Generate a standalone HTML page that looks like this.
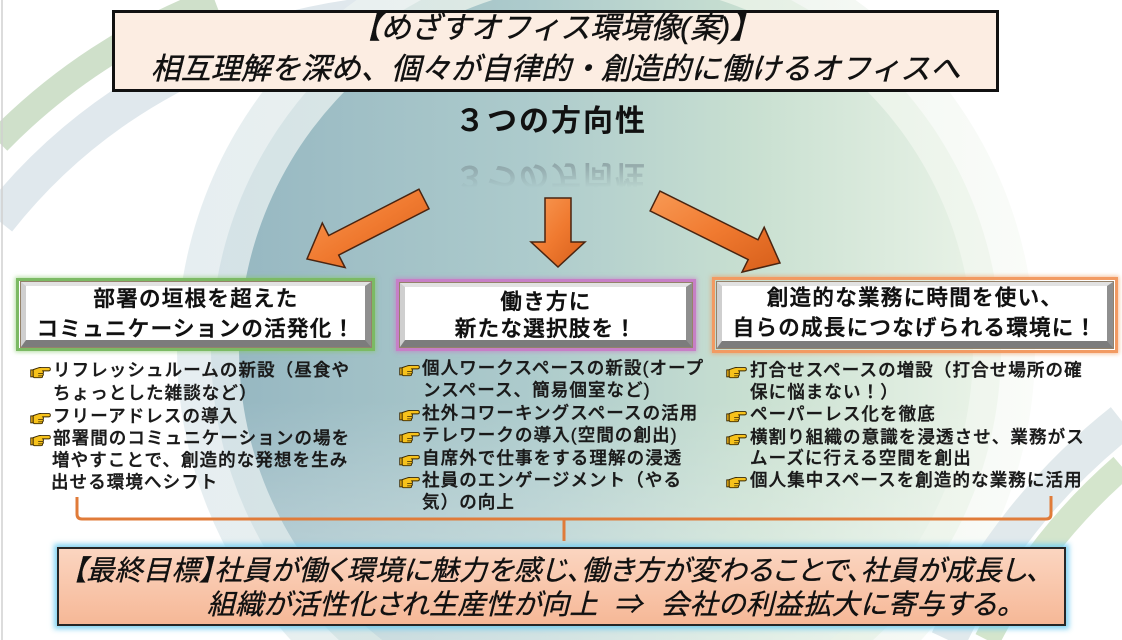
<!DOCTYPE html>
<html><head><meta charset="utf-8">
<style>
*{margin:0;padding:0;box-sizing:border-box}
html,body{width:1122px;height:640px;overflow:hidden;background:#fff}
body{position:relative;font-family:"Liberation Sans","Noto Sans CJK JP",sans-serif;color:#111}
.a{position:absolute;white-space:nowrap}
.t{font-size:30px;font-style:italic;line-height:36px;text-align:center;left:112px;width:887px;color:#111;-webkit-text-stroke:0.45px #111}
.h{font-size:21.5px;line-height:30px;text-align:center;letter-spacing:1.3px;font-weight:500;color:#111;-webkit-text-stroke:0.55px #111}
.b{font-size:17.5px;line-height:22px;letter-spacing:1.1px;color:#1a1a1a;font-weight:500;-webkit-text-stroke:0.4px #1a1a1a}
.ob{position:absolute;border:3px solid}
.bv{position:absolute;background:#fff;border-style:solid;border-width:4px 6px 7px 5px;border-color:#e2e2e2 #8f8f8f #7c7c7c #cfcfcf;box-shadow:0 0 0 1px #94826a}
.f{font-size:28px;font-style:italic;line-height:34px;font-feature-settings:"palt";color:#111;-webkit-text-stroke:0.35px #111}
</style></head><body>

<svg class="a" style="left:0;top:0" width="1122" height="640">
<defs>
<linearGradient id="ring" x1="170" y1="0" x2="1040" y2="0" gradientUnits="userSpaceOnUse">
<stop offset="0" stop-color="#e6eef1"/><stop offset="0.6" stop-color="#eef4ee"/><stop offset="1" stop-color="#fafcf9"/></linearGradient>
<linearGradient id="ring2" x1="200" y1="0" x2="1010" y2="0" gradientUnits="userSpaceOnUse">
<stop offset="0" stop-color="#d4e2e7"/><stop offset="0.6" stop-color="#e2eee2"/><stop offset="1" stop-color="#f1f7ef"/></linearGradient>
<linearGradient id="disk" x1="240" y1="0" x2="975" y2="0" gradientUnits="userSpaceOnUse">
<stop offset="0" stop-color="#97b8c2"/><stop offset="0.4" stop-color="#adcbcc"/>
<stop offset="0.7" stop-color="#c9e0d1"/><stop offset="1" stop-color="#e8f2e6"/></linearGradient>
<linearGradient id="fadeb" x1="0" y1="400" x2="0" y2="720" gradientUnits="userSpaceOnUse">
<stop offset="0" stop-color="#fff" stop-opacity="0"/><stop offset="1" stop-color="#fff" stop-opacity="0.6"/></linearGradient>
</defs>
<rect width="1122" height="640" fill="#fff"/>
<path d="M-2,220.3 A548,548 0 0 1 382.2,14.1" fill="none" stroke="#e0e8ed" stroke-width="36"/>
<path d="M-2,141.6 A600,600 0 0 1 214.6,0" fill="none" stroke="#cfe0ca" stroke-width="26"/>
<path d="M290.8,640 A429,429 0 1 1 921.2,640 Z" fill="url(#ring)"/>
<path d="M338.9,640 A395,395 0 1 1 873.1,640 Z" fill="url(#ring2)"/>
<path d="M382.4,640 A367,367 0 1 1 829.6,640 Z" fill="url(#disk)"/>
<path d="M382.4,640 A367,367 0 1 1 829.6,640 Z" fill="url(#fadeb)"/>
<path d="M1122,421.2 A610,610 0 0 0 948.2,640" fill="none" stroke="#e1e9ec" stroke-width="36"/>
<path d="M1122,466.7 A575,575 0 0 0 987.1,640" fill="none" stroke="#d4e5cc" stroke-width="26"/>
<line x1="2" y1="0" x2="2" y2="640" stroke="#d0d0d0" stroke-width="1.5"/>
</svg>

<svg class="a" style="left:0;top:0" width="1122" height="640">
<defs>
<linearGradient id="og" x1="0" y1="0" x2="1" y2="1">
<stop offset="0" stop-color="#f89a55"/><stop offset="0.5" stop-color="#f07a30"/><stop offset="1" stop-color="#d65e1a"/></linearGradient>
<symbol id="hand" viewBox="0 0 22 16">
<rect x="0.6" y="6.3" width="2.6" height="7.4" fill="#f2b618" stroke="#3a2800" stroke-width="1"/>
<path d="M3.2,6 L8,4.4 Q10,3.5 12,3.8 L20,3.8 Q21.5,3.8 21.5,5.6 Q21.5,7.3 20,7.3 L13.5,7.3 Q14.6,8.6 13.8,10 Q14.6,11.5 13.2,12.8 Q13.5,14.6 11.5,14.6 L5,14.6 Q3.2,14.6 3.2,12.6 Z" fill="#f7c21b" stroke="#3a2800" stroke-width="1"/>
<path d="M8.5,10 L13.6,10 M8.5,12.6 L13,12.6" stroke="#3a2800" stroke-width="0.8" fill="none"/>
</symbol>
</defs>
<polygon points="419,189.2 328.7,235.5 322.3,223 307,259 345.1,267.6 338.7,255.1 429,208.8" fill="url(#og)" stroke="#4a2410" stroke-width="1.5"/>
<polygon points="545,198 571,198 571,242 585,242 558,267 531,242 545,242" fill="url(#og)" stroke="#4a2410" stroke-width="1.5"/>
<polygon points="659.9,191.1 758,239.8 764.2,227.3 780,263 742,272.1 748.2,259.6 650.1,210.9" fill="url(#og)" stroke="#4a2410" stroke-width="1.5"/>
<path d="M77,497 L77,514 Q77,519 82,519 L1046,519 Q1051,519 1051,514 L1051,496" fill="none" stroke="#e07b39" stroke-width="3"/>
<path d="M564,519 L564,541" stroke="#e07b39" stroke-width="3"/>
<use href="#hand" x="30" y="364" width="21" height="15"/>
<use href="#hand" x="30" y="410" width="21" height="15"/>
<use href="#hand" x="30" y="432" width="21" height="15"/>
<use href="#hand" x="399" y="362" width="21" height="15"/>
<use href="#hand" x="399" y="407" width="21" height="15"/>
<use href="#hand" x="399" y="429" width="21" height="15"/>
<use href="#hand" x="399" y="452" width="21" height="15"/>
<use href="#hand" x="399" y="474" width="21" height="15"/>
<use href="#hand" x="726" y="364" width="21" height="15"/>
<use href="#hand" x="726" y="408" width="21" height="15"/>
<use href="#hand" x="726" y="431" width="21" height="15"/>
<use href="#hand" x="726" y="474" width="21" height="15"/>
</svg>

<!-- top title box -->
<div class="a" style="left:112px;top:10px;width:887px;height:82px;border:3px solid #111;background:#fcede2"></div>
<div class="a t" style="top:11px">【めざすオフィス環境像(案)】</div>
<div class="a t" style="top:52px">相互理解を深め、個々が自律的・創造的に働けるオフィスへ</div>

<!-- 3つの方向性 -->
<div class="a" style="left:401px;top:104px;width:300px;text-align:center;font-size:30px;font-weight:bold;letter-spacing:2px;line-height:36px;color:#111">３つの方向性</div>
<div class="a" style="left:401px;top:157px;width:300px;text-align:center;font-size:30px;font-weight:bold;letter-spacing:2px;line-height:36px;color:#7f9296;transform:scaleY(-1);-webkit-mask-image:linear-gradient(to top,rgba(0,0,0,0.85),rgba(0,0,0,0) 85%);mask-image:linear-gradient(to top,rgba(0,0,0,0.85),rgba(0,0,0,0) 85%)">３つの方向性</div>

<!-- box 1 -->
<div class="ob" style="left:16px;top:278px;width:359px;height:73px;border-color:#7cba64;box-shadow:0 0 4px 1px rgba(130,200,100,0.6)"></div>
<div class="bv" style="left:21px;top:282px;width:350px;height:65px"></div>
<div class="a h" style="left:21px;top:283.5px;width:350px">部署の垣根を超えた</div>
<div class="a h" style="left:21px;top:314px;width:350px">コミュニケーションの活発化！</div>

<!-- box 2 -->
<div class="ob" style="left:396px;top:279px;width:300px;height:72px;border-color:#c77fc6;box-shadow:0 0 4px 1px rgba(200,120,200,0.6)"></div>
<div class="bv" style="left:400px;top:283px;width:292px;height:64px"></div>
<div class="a h" style="left:400px;top:287px;width:292px">働き方に</div>
<div class="a h" style="left:400px;top:314px;width:292px">新たな選択肢を！</div>

<!-- box 3 -->
<div class="ob" style="left:712px;top:277px;width:406px;height:76px;border-color:#f29a62;box-shadow:0 0 4px 1px rgba(240,150,90,0.6)"></div>
<div class="bv" style="left:717px;top:282px;width:396px;height:66px"></div>
<div class="a h" style="left:717px;top:282.5px;width:396px">創造的な業務に時間を使い、</div>
<div class="a h" style="left:717px;top:313px;width:396px">自らの成長につなげられる環境に！</div>

<!-- bullets col1 -->
<div class="a b" style="left:53px;top:359px">リフレッシュルームの新設（昼食や</div>
<div class="a b" style="left:53px;top:382px">ちょっとした雑談など）</div>
<div class="a b" style="left:53px;top:405px">フリーアドレスの導入</div>
<div class="a b" style="left:53px;top:427px">部署間のコミュニケーションの場を</div>
<div class="a b" style="left:52px;top:449px">増やすことで、創造的な発想を生み</div>
<div class="a b" style="left:51px;top:471px">出せる環境へシフト</div>

<!-- bullets col2 -->
<div class="a b" style="left:422px;top:357px">個人ワークスペースの新設(オープ</div>
<div class="a b" style="left:423px;top:379px">ンスペース、簡易個室など)</div>
<div class="a b" style="left:422px;top:402px">社外コワーキングスペースの活用</div>
<div class="a b" style="left:422px;top:424px">テレワークの導入(空間の創出)</div>
<div class="a b" style="left:422px;top:447px">自席外で仕事をする理解の浸透</div>
<div class="a b" style="left:422px;top:469px">社員のエンゲージメント（やる</div>
<div class="a b" style="left:422px;top:491px">気）の向上</div>

<!-- bullets col3 -->
<div class="a b" style="left:750px;top:359px">打合せスペースの増設（打合せ場所の確</div>
<div class="a b" style="left:750px;top:381px">保に悩まない！）</div>
<div class="a b" style="left:750px;top:403px">ペーパーレス化を徹底</div>
<div class="a b" style="left:750px;top:426px">横割り組織の意識を浸透させ、業務がス</div>
<div class="a b" style="left:750px;top:447px">ムーズに行える空間を創出</div>
<div class="a b" style="left:750px;top:469px">個人集中スペースを創造的な業務に活用</div>

<!-- bottom box -->
<div class="a" style="left:57px;top:547px;width:1009px;height:79px;border:2px solid #262626;background:linear-gradient(#fbd5c0,#f6b897);box-shadow:0 0 5px 3px rgba(110,205,240,0.85)"></div>
<div class="a f" style="left:72px;top:554px;letter-spacing:0.35px">【最終目標】社員が働く環境に魅力を感じ、働き方が変わることで、社員が成長し、</div>
<div class="a f" style="left:207px;top:588px;letter-spacing:0.2px">組織が活性化され生産性が向上</div>
<div class="a f" style="left:614px;top:588px">⇒</div>
<div class="a f" style="left:661px;top:588px;letter-spacing:0.6px">会社の利益拡大に寄与する。</div>

</body></html>
